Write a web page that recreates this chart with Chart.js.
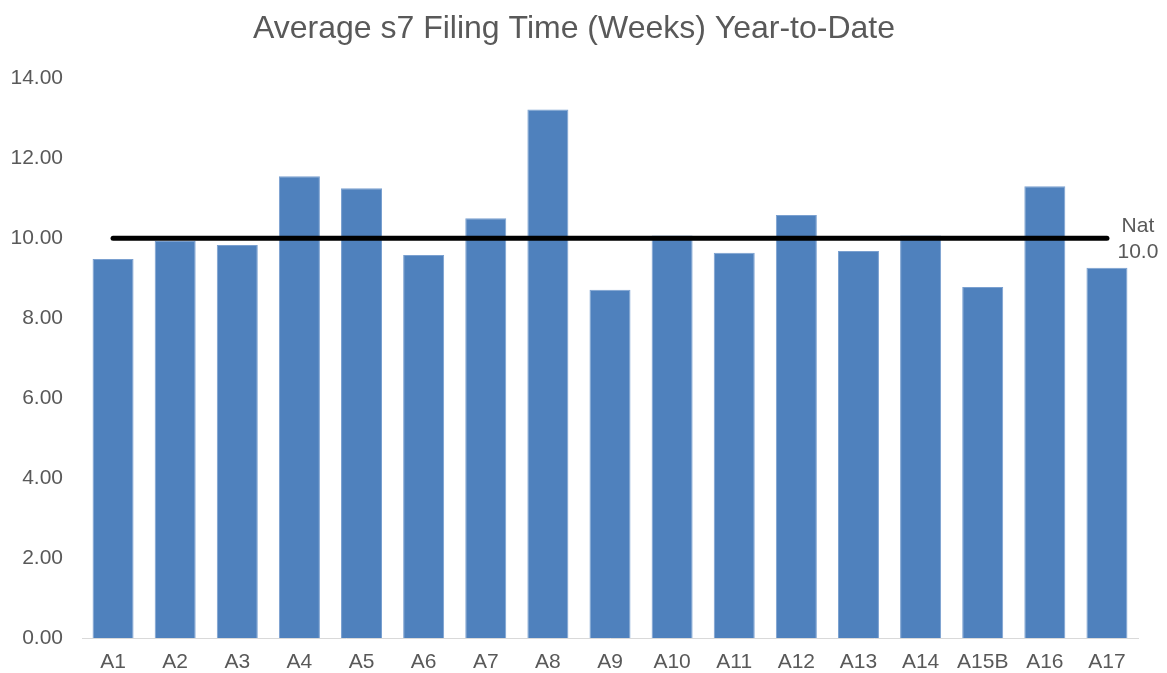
<!DOCTYPE html>
<html>
<head>
<meta charset="utf-8">
<script src="https://cdn.jsdelivr.net/npm/chart.js@4/dist/chart.umd.min.js"></script>
<style>
  html, body { margin:0; padding:0; background:#fff; }
  #wrap { position:relative; width:1167px; height:673px; }
</style>
</head>
<body>
<div id="wrap"><canvas id="c" aria-label="Average s7 filing time" role="img"></canvas></div>
<script>
// ── data ──────────────────────────────────────────────────────────────────
const AREAS    = ["A1","A2","A3","A4","A5","A6","A7","A8","A9","A10","A11","A12","A13","A14","A15B","A16","A17"];
const WEEKS    = [9.48,9.93,9.83,11.55,11.25,9.58,10.50,13.22,8.71,10.07,9.64,10.58,9.68,10.07,8.78,11.30,9.26];
const NATIONAL = 10.0;
const Y_MAX    = 14;
const Y_STEP   = 2;

const GREY = "#595959";
const FONT = "'Liberation Sans', Arial, sans-serif";

// "Nat / 10.0" label at the end of the national line
const natLabel = {
  id: "natLabel",
  afterDatasetsDraw(chart) {
    const meta = chart.getDatasetMeta(1);
    const last = meta.data[meta.data.length - 1];
    if (!last) return;
    const { ctx } = chart;
    const x = last.x + 31;
    ctx.save();
    ctx.fillStyle = GREY;
    ctx.font = `21px ${FONT}`;
    ctx.textAlign = "center";
    ctx.textBaseline = "middle";
    ctx.fillText("Nat", x, last.y - 12);
    ctx.fillText(NATIONAL.toFixed(1), x, last.y + 14);
    ctx.restore();
  }
};

new Chart(document.getElementById("c"), {
  data: {
    labels: AREAS,
    datasets: [
      { type:"bar", data: WEEKS, backgroundColor:"#4F81BD", borderColor:"#7aa0d0", borderWidth:1,
        categoryPercentage:1, barPercentage:0.66, order:2 },
      { type:"line", data: AREAS.map(() => NATIONAL), borderColor:"#000", borderWidth:5,
        pointRadius:0, borderCapStyle:"round", order:1 },
    ],
  },
  options: {
    responsive:true, maintainAspectRatio:false, animation:false,
    layout:{ padding:{ left:10, right:29, top:0, bottom:0 } },
    plugins:{
      legend:{ display:false }, tooltip:{ enabled:false },
      title:{ display:true, text:"Average s7 Filing Time (Weeks) Year-to-Date", color:GREY,
              font:{ family:FONT, size:32, weight:"normal" }, padding:{ top:10, bottom:30 } },
    },
    scales:{
      x:{ grid:{ display:false, drawTicks:false }, border:{ color:"#d9d9d9", width:1 },
          ticks:{ color:GREY, font:{ family:FONT, size:21 }, padding:12 },
          afterFit:s => { s.height = 35; } },
      y:{ min:0, max:Y_MAX, grid:{ display:false, drawTicks:false }, border:{ display:false },
          ticks:{ stepSize:Y_STEP, color:GREY, font:{ family:FONT, size:21 }, padding:19,
                  callback:v => v.toFixed(2) },
          afterFit:s => { s.width = 72; } },
    },
  },
  plugins:[natLabel],
});
</script>
</body>
</html>
